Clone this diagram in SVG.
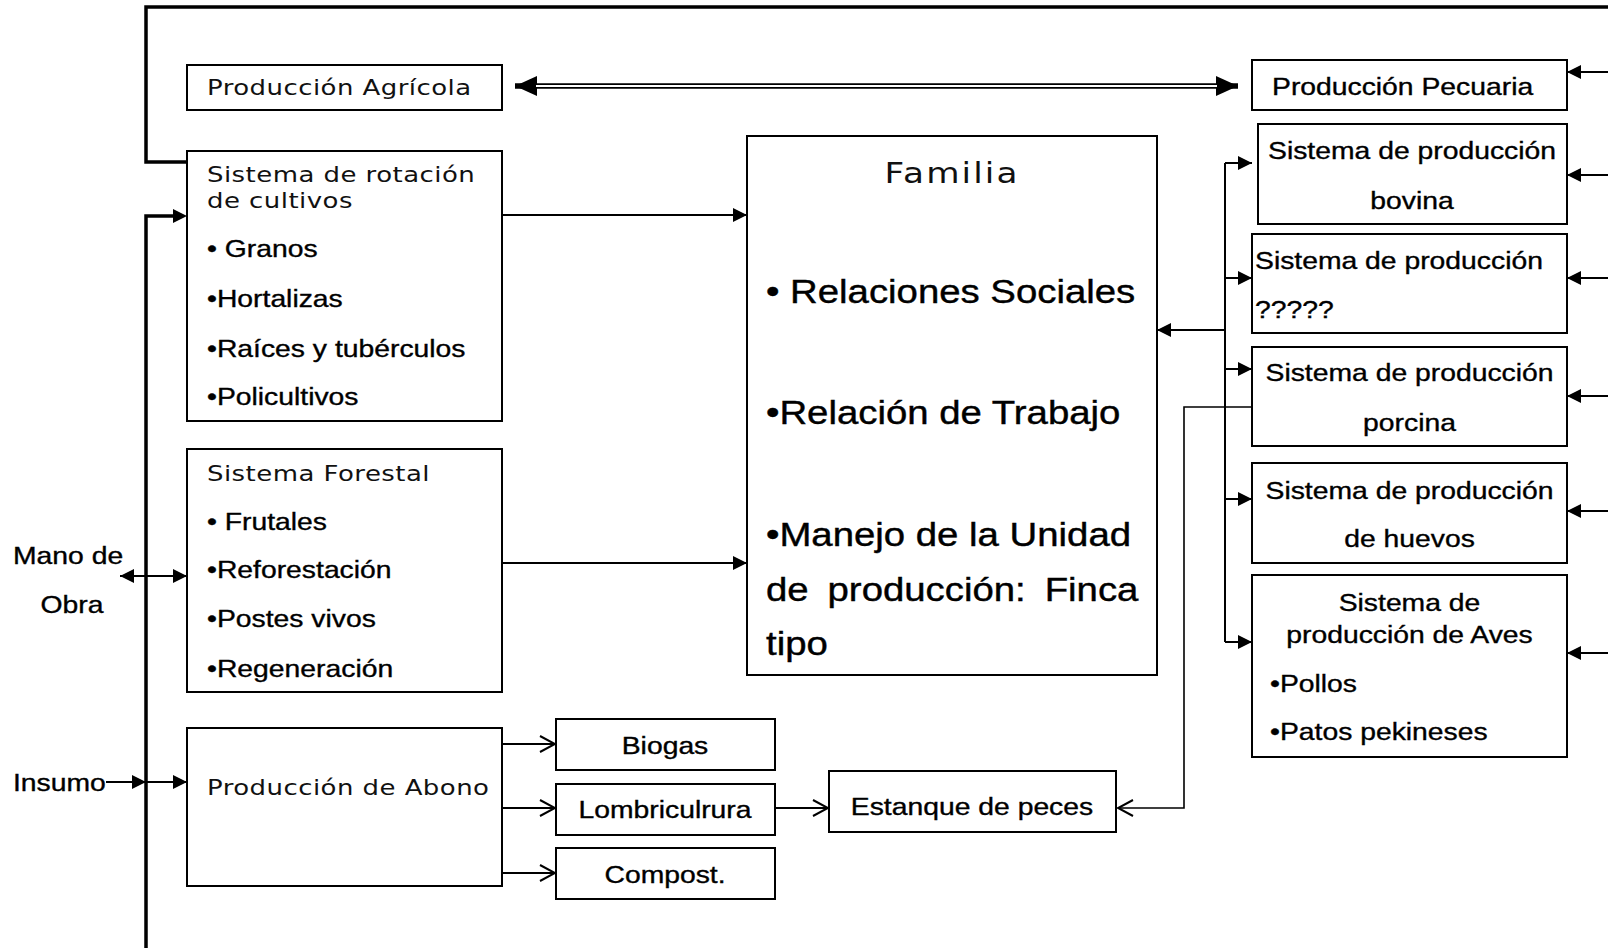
<svg xmlns="http://www.w3.org/2000/svg" width="1608" height="948" viewBox="0 0 1608 948">
<style>
.box{fill:#fff;stroke:#000;stroke-width:2}
.c{fill:none;stroke:#000;stroke-width:2}
.thick{fill:none;stroke:#000;stroke-width:3.5}
.a{font-family:"Liberation Sans",Arial,sans-serif;font-size:24px;fill:#000;stroke:#000;stroke-width:0.35}
.b{font-family:"Liberation Sans",Arial,sans-serif;font-size:32.5px;fill:#000;stroke:#000;stroke-width:0.4}
.v{font-family:"DejaVu Sans",Verdana,sans-serif;font-size:22px;fill:#111;letter-spacing:0.4px}
.vf{font-family:"DejaVu Sans",Verdana,sans-serif;font-size:29px;fill:#111;letter-spacing:1.8px}
.m{text-anchor:middle}
</style>
<defs>
<marker id="arr" markerUnits="userSpaceOnUse" markerWidth="14" markerHeight="14" refX="14" refY="7" orient="auto-start-reverse" viewBox="0 0 14 14">
<path d="M0,0 L14,7 L0,14 z" fill="#000"/>
</marker>
<marker id="big" markerUnits="userSpaceOnUse" markerWidth="22" markerHeight="20" refX="22" refY="10" orient="auto-start-reverse" viewBox="0 0 22 20">
<path d="M0,0 L22,10 L0,20 z" fill="#000"/>
</marker>
<marker id="open" markerUnits="userSpaceOnUse" markerWidth="18" markerHeight="18" refX="16" refY="9" orient="auto" viewBox="0 0 18 18">
<path d="M1,1 L16,9 L1,17" fill="none" stroke="#000" stroke-width="2"/>
</marker>
</defs>

<g id="connectors">
<path class="thick" d="M1608,7 H146 V162 H187"/>
<path class="thick" d="M146,948 V216 H173"/>
<path d="M173,209 L187,216 L173,223 z" fill="#000"/>
<line x1="515" y1="86" x2="1238" y2="86" stroke="#000" stroke-width="5.5" marker-start="url(#big)" marker-end="url(#big)"/>
<line x1="536" y1="86" x2="1217" y2="86" stroke="#fff" stroke-width="2"/>
<path class="c" d="M502,215 H747" marker-end="url(#arr)"/>
<path class="c" d="M502,563 H747" marker-end="url(#arr)"/>
<path class="c" d="M120,576 H187" marker-start="url(#arr)" marker-end="url(#arr)"/>
<path class="c" d="M106,782 H146" marker-end="url(#arr)"/>
<path class="c" d="M146,782 H187" marker-end="url(#arr)"/>
<path class="c" d="M502,744 H555" marker-end="url(#open)"/>
<path class="c" d="M502,808 H555" marker-end="url(#open)"/>
<path class="c" d="M502,873 H555" marker-end="url(#open)"/>
<path class="c" d="M775,808 H828" marker-end="url(#open)"/>
<path class="c" style="stroke-width:1.6" d="M1252,407 H1184 V808 H1118" marker-end="url(#open)"/>
<path class="c" d="M1225,163 V642"/>
<path class="c" d="M1225,163 H1252" marker-end="url(#arr)"/>
<path class="c" d="M1225,278 H1252" marker-end="url(#arr)"/>
<path class="c" d="M1225,369 H1252" marker-end="url(#arr)"/>
<path class="c" d="M1225,499 H1252" marker-end="url(#arr)"/>
<path class="c" d="M1225,642 H1252" marker-end="url(#arr)"/>
<path class="c" d="M1225,330 H1157" marker-end="url(#arr)"/>
<path class="c" d="M1608,72 H1567" marker-end="url(#arr)"/>
<path class="c" d="M1608,175 H1567" marker-end="url(#arr)"/>
<path class="c" d="M1608,278 H1567" marker-end="url(#arr)"/>
<path class="c" d="M1608,396 H1567" marker-end="url(#arr)"/>
<path class="c" d="M1608,511 H1567" marker-end="url(#arr)"/>
<path class="c" d="M1608,653 H1567" marker-end="url(#arr)"/>
</g>

<g id="mano-de-obra">
<text class="a" transform="translate(13,564) scale(1.18,1)">Mano de</text>
<text class="a m" transform="translate(72,613) scale(1.18,1)">Obra</text>
</g>
<g id="insumo">
<text class="a" transform="translate(13,791) scale(1.18,1)">Insumo</text>
</g>

<g id="produccion-agricola">
<rect class="box" x="187" y="65" width="315" height="45"/>
<text class="v" transform="translate(207,95) scale(1.18,1)">Producción Agrícola</text>
</g>

<g id="rotacion">
<rect class="box" x="187" y="151" width="315" height="270"/>
<text class="v" transform="translate(207,182) scale(1.18,1)">Sistema de rotación</text>
<text class="v" transform="translate(207,208) scale(1.18,1)">de cultivos</text>
<text class="a" transform="translate(207,257) scale(1.18,1)">• Granos</text>
<text class="a" transform="translate(207,307) scale(1.18,1)">•Hortalizas</text>
<text class="a" transform="translate(207,357) scale(1.18,1)">•Raíces y tubérculos</text>
<text class="a" transform="translate(207,405) scale(1.18,1)">•Policultivos</text>
</g>

<g id="forestal">
<rect class="box" x="187" y="449" width="315" height="243"/>
<text class="v" transform="translate(207,481) scale(1.18,1)">Sistema Forestal</text>
<text class="a" transform="translate(207,530) scale(1.18,1)">• Frutales</text>
<text class="a" transform="translate(207,578) scale(1.18,1)">•Reforestación</text>
<text class="a" transform="translate(207,627) scale(1.18,1)">•Postes vivos</text>
<text class="a" transform="translate(207,677) scale(1.18,1)">•Regeneración</text>
</g>

<g id="abono">
<rect class="box" x="187" y="728" width="315" height="158"/>
<text class="v" transform="translate(207,795) scale(1.18,1)">Producción de Abono</text>
</g>

<g id="biogas">
<rect class="box" x="556" y="719" width="219" height="51"/>
<text class="a m" transform="translate(665,754) scale(1.18,1)">Biogas</text>
</g>
<g id="lombricultura">
<rect class="box" x="556" y="784" width="219" height="51"/>
<text class="a m" transform="translate(665,818) scale(1.18,1)">Lombriculrura</text>
</g>
<g id="compost">
<rect class="box" x="556" y="848" width="219" height="51"/>
<text class="a m" transform="translate(665,883) scale(1.18,1)">Compost.</text>
</g>
<g id="estanque">
<rect class="box" x="829" y="771" width="287" height="61"/>
<text class="a m" transform="translate(972,815) scale(1.18,1)">Estanque de peces</text>
</g>

<g id="familia">
<rect class="box" x="747" y="136" width="410" height="539"/>
<text class="vf m" transform="translate(952,183) scale(1.18,1)">Familia</text>
<text class="b" transform="translate(766,303) scale(1.18,1)">• Relaciones Sociales</text>
<text class="b" transform="translate(766,424) scale(1.18,1)">•Relación de Trabajo</text>
<text class="b" transform="translate(766,546) scale(1.18,1)">•Manejo de la Unidad</text>
<text class="b" word-spacing="7" transform="translate(766,601) scale(1.18,1)">de producción: Finca</text>
<text class="b" transform="translate(766,655) scale(1.18,1)">tipo</text>
</g>

<g id="produccion-pecuaria">
<rect class="box" x="1252" y="60" width="315" height="50"/>
<text class="a" transform="translate(1272,95) scale(1.18,1)">Producción Pecuaria</text>
</g>
<g id="bovina">
<rect class="box" x="1258" y="124" width="309" height="100"/>
<text class="a m" transform="translate(1412,159) scale(1.18,1)">Sistema de producción</text>
<text class="a m" transform="translate(1412,209) scale(1.18,1)">bovina</text>
</g>
<g id="otro">
<rect class="box" x="1252" y="234" width="315" height="99"/>
<text class="a" transform="translate(1255,269) scale(1.18,1)">Sistema de producción</text>
<text class="a" transform="translate(1255,318) scale(1.18,1)">?????</text>
</g>
<g id="porcina">
<rect class="box" x="1252" y="347" width="315" height="99"/>
<text class="a m" transform="translate(1409.5,381) scale(1.18,1)">Sistema de producción</text>
<text class="a m" transform="translate(1409.5,431) scale(1.18,1)">porcina</text>
</g>
<g id="huevos">
<rect class="box" x="1252" y="463" width="315" height="100"/>
<text class="a m" transform="translate(1409.5,499) scale(1.18,1)">Sistema de producción</text>
<text class="a m" transform="translate(1409.5,547) scale(1.18,1)">de huevos</text>
</g>
<g id="aves">
<rect class="box" x="1252" y="575" width="315" height="182"/>
<text class="a m" transform="translate(1409.5,611) scale(1.18,1)">Sistema de</text>
<text class="a m" transform="translate(1409.5,643) scale(1.18,1)">producción de Aves</text>
<text class="a" transform="translate(1270,692) scale(1.18,1)">•Pollos</text>
<text class="a" transform="translate(1270,740) scale(1.18,1)">•Patos pekineses</text>
</g>
</svg>
